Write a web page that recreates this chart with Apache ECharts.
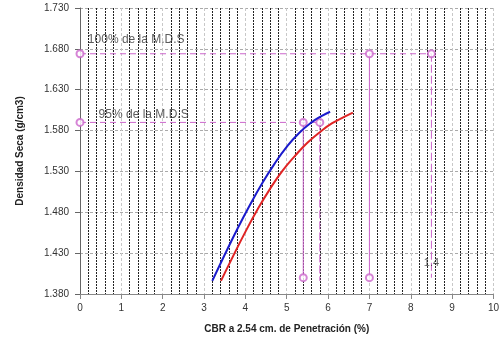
<!DOCTYPE html>
<html><head><meta charset="utf-8">
<script src="https://cdn.jsdelivr.net/npm/echarts@6/dist/echarts.min.js"></script>
<style>html,body{margin:0;padding:0;background:#fff}#c{width:502px;height:342px}</style>
</head><body><div id="c"></div>
<script>
const blueCurve = [[3.20,1.396],[3.50,1.428],[3.80,1.459],[4.10,1.488],[4.40,1.515],[4.70,1.539],[5.00,1.560],[5.30,1.577],[5.60,1.590],[5.85,1.598],[6.05,1.603]];
const redCurve = [[3.41,1.396],[3.70,1.426],[4.00,1.456],[4.30,1.484],[4.60,1.509],[4.90,1.531],[5.20,1.549],[5.50,1.565],[5.80,1.578],[6.10,1.589],[6.40,1.597],[6.60,1.602]];
const mds100 = 1.674, mds95 = 1.590, guideBase = 1.40;
const guideH100 = [[0,mds100],[8.5,mds100]];
const guideV70 = [[7,mds100],[7,guideBase]];
const guideV85 = [[8.5,mds100],[8.5,guideBase]];
const guideH95 = [[0,mds95],[5.8,mds95]];
const guideV54 = [[5.4,mds95],[5.4,guideBase]];
const guideV58 = [[5.8,mds95],[5.8,1.396]];
const guideMarkers = [[0,mds100],[7,mds100],[8.5,mds100],[0,mds95],[5.4,mds95],[5.8,mds95],[5.4,guideBase],[7,guideBase]];
const noteTexts = ['100% de la M.D.S','95% de la M.D.S','1.4'];
const notePoints = [[0.19,1.691],[0.45,1.599],[8.5,1.418]];
const xTitle = 'CBR a 2.54 cm. de Penetración (%)';
const yTitle = 'Densidad Seca (g/cm3)';

const pink = '#cc66cc';
function guide(data, type){
  return {type:'line', data:data, symbol:'none', silent:true, z:3,
    lineStyle:{color:pink, width:1, type:type}};
}
const chart = echarts.init(document.getElementById('c'), null, {renderer:'canvas'});
chart.setOption({
  animation:false,
  backgroundColor:'#fff',
  grid:{left:80, right:2, top:8, bottom:48, containLabel:false},
  xAxis:{type:'value', min:0, max:10, interval:1,
    name:xTitle, nameLocation:'middle', nameGap:30,
    nameTextStyle:{fontFamily:'Liberation Sans', fontWeight:'bold', fontSize:10, color:'#222'},
    axisLine:{lineStyle:{color:'#888'}},
    axisTick:{show:true, length:5, lineStyle:{color:'#888'}},
    axisLabel:{fontFamily:'Liberation Sans', fontSize:10, color:'#333', margin:9},
    splitLine:{show:true, lineStyle:{color:'#c8c8c8', type:[3,2]}},
    minorTick:{show:false, splitNumber:5},
    minorSplitLine:{show:true, lineStyle:{color:'#222', type:[2,1], width:1}}
  },
  yAxis:{type:'value', min:1.38, max:1.73, interval:0.05,
    name:yTitle, nameLocation:'middle', nameGap:55, nameRotate:90,
    nameTextStyle:{fontFamily:'Liberation Sans', fontWeight:'bold', fontSize:10, color:'#222'},
    axisLine:{show:true, lineStyle:{color:'#666'}},
    axisTick:{show:true, length:5, lineStyle:{color:'#666'}},
    axisLabel:{fontFamily:'Liberation Sans', fontSize:10, color:'#333', margin:11,
      formatter:v=>v.toFixed(3)},
    splitLine:{show:true, lineStyle:{color:'#aaa', type:[3,2]}}
  },
  series:[
    guide(guideH100,[6,4]), guide(guideV70,'solid'), guide(guideV85,[8,3]),
    guide(guideH95,[6,4]), guide(guideV54,'solid'), guide(guideV58,[8,3]),
    {type:'scatter', data:guideMarkers, symbol:'emptyCircle', symbolSize:7, z:4,
      itemStyle:{color:pink, borderColor:pink, borderWidth:1}},
    {type:'line', data:blueCurve, smooth:true, symbol:'none', z:5,
      lineStyle:{color:'#1a1acc', width:2}},
    {type:'line', data:redCurve, smooth:true, symbol:'none', z:5,
      lineStyle:{color:'#e02424', width:2}},
    {type:'scatter', symbolSize:0, z:6, silent:true,
      data:notePoints.map((p,i)=>({value:p, name:noteTexts[i],
        label:{show:true, formatter:'{b}', position: i<2 ? 'right' : 'inside', distance:0,
          fontFamily:'Liberation Sans', fontSize: i<2 ? 12 : 11, color:'#333'}}))}
  ]
});
</script></body></html>
